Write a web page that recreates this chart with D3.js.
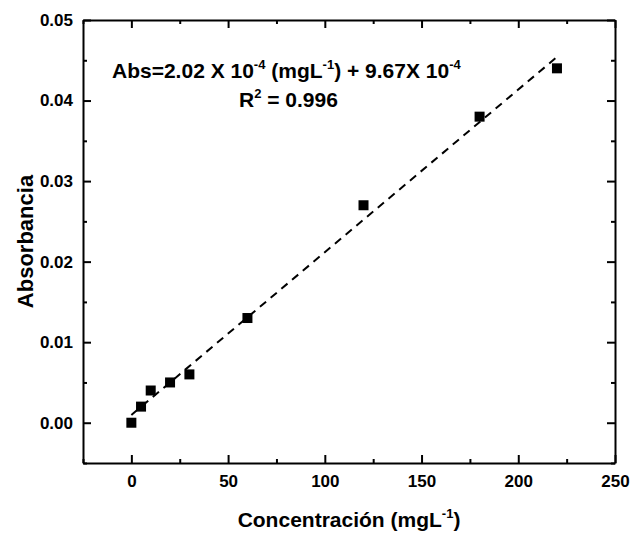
<!DOCTYPE html>
<html lang="es">
<head>
<meta charset="UTF-8">
<title>Curva de calibración</title>
<script src="https://cdn.jsdelivr.net/npm/d3@7"></script>
<style>
  * { margin: 0; padding: 0; }
  body { background: #fff; }
  svg text { font-family: "Liberation Sans", Arial, sans-serif; font-weight: bold; fill: #000; }
</style>
</head>
<body>
<svg></svg>
<script>
// datos
const concentracion = [0, 5, 10, 20, 30, 60, 120, 180, 220];
const absorbancia = [0, 0.002, 0.004, 0.005, 0.006, 0.013, 0.027, 0.038, 0.044];
const xTicks = [0, 50, 100, 150, 200, 250];
const yTicks = [0, 0.01, 0.02, 0.03, 0.04, 0.05];
const pendiente = 2.02e-4, intercepto = 9.67e-4;
const ajusteX = [0, 220];

const W = 631, H = 533;
const m = { left: 83, right: 16, top: 20, bottom: 70 };

const svg = d3.select('svg').attr('width', W).attr('height', H);

const x = d3.scaleLinear().domain([-25, 250]).range([m.left, W - m.right]);
const y = d3.scaleLinear().domain([-0.005, 0.05]).range([H - m.bottom, m.top]);

const xMinor = d3.range(-25, 251, 25).filter(v => xTicks.indexOf(v) < 0);
const yMinor = d3.range(-0.005, 0.0501, 0.01);

// ejes con marcas hacia adentro
function eje(g, axis) {
  g.call(axis);
  g.select('.domain').attr('stroke-width', 2);
  g.selectAll('.tick line').attr('stroke-width', 2);
  g.selectAll('.tick text').attr('font-size', 17).attr('font-family', null);
}

const gBottom = svg.append('g').attr('transform', `translate(0,${y.range()[0]})`);
eje(gBottom, d3.axisBottom(x).tickValues(xTicks).tickSize(-8).tickSizeOuter(0).tickPadding(12));
gBottom.selectAll('.tick text').attr('dy', '0.71em');
const gBottomMinor = svg.append('g').attr('transform', `translate(0,${y.range()[0]})`);
eje(gBottomMinor, d3.axisBottom(x).tickValues(xMinor).tickSize(-4).tickFormat(''));
gBottomMinor.select('.domain').remove();

const gTop = svg.append('g').attr('transform', `translate(0,${m.top})`);
eje(gTop, d3.axisTop(x).tickValues(xTicks).tickSize(-8).tickSizeOuter(0).tickFormat(''));
const gTopMinor = svg.append('g').attr('transform', `translate(0,${m.top})`);
eje(gTopMinor, d3.axisTop(x).tickValues(xMinor).tickSize(-4).tickFormat(''));
gTopMinor.select('.domain').remove();

const gLeft = svg.append('g').attr('transform', `translate(${m.left},0)`);
eje(gLeft, d3.axisLeft(y).tickValues(yTicks).tickSize(-8).tickSizeOuter(0).tickPadding(10).tickFormat(d3.format('.2f')));
const gLeftMinor = svg.append('g').attr('transform', `translate(${m.left},0)`);
eje(gLeftMinor, d3.axisLeft(y).tickValues(yMinor).tickSize(-4).tickFormat(''));
gLeftMinor.select('.domain').remove();

const gRight = svg.append('g').attr('transform', `translate(${W - m.right},0)`);
eje(gRight, d3.axisRight(y).tickValues(yTicks).tickSize(-8).tickSizeOuter(0).tickFormat(''));
const gRightMinor = svg.append('g').attr('transform', `translate(${W - m.right},0)`);
eje(gRightMinor, d3.axisRight(y).tickValues(yMinor).tickSize(-4).tickFormat(''));
gRightMinor.select('.domain').remove();

// recta de ajuste
svg.append('path')
  .datum(ajusteX.map(c => [c, pendiente * c + intercepto]))
  .attr('fill', 'none').attr('stroke', '#000').attr('stroke-width', 2)
  .attr('stroke-dasharray', '8,6')
  .attr('d', d3.line().x(d => x(d[0])).y(d => y(d[1])));

// puntos
const s = 10;
svg.selectAll('rect.pt').data(concentracion).enter().append('rect')
  .attr('class', 'pt')
  .attr('x', d => x(d) - s / 2)
  .attr('y', (d, i) => y(absorbancia[i]) - s / 2)
  .attr('width', s).attr('height', s).attr('fill', '#000');

// ecuación
const eq = svg.append('text').attr('x', 112).attr('y', 78).attr('font-size', 21);
eq.append('tspan').text('Abs=2.02 X 10');
eq.append('tspan').attr('font-size', 13).attr('dy', -9).text('-4');
eq.append('tspan').attr('dy', 9).text(' (mgL');
eq.append('tspan').attr('font-size', 13).attr('dy', -9).text('-1');
eq.append('tspan').attr('dy', 9).text(') + 9.67X 10');
eq.append('tspan').attr('font-size', 13).attr('dy', -9).text('-4');

const r2 = svg.append('text').attr('x', 239).attr('y', 107).attr('font-size', 21);
r2.append('tspan').text('R');
r2.append('tspan').attr('font-size', 13).attr('dy', -9).text('2');
r2.append('tspan').attr('dy', 9).text(' = 0.996');

// títulos de ejes
const xt = svg.append('text').attr('x', (m.left + W - m.right) / 2).attr('y', 527)
  .attr('text-anchor', 'middle').attr('font-size', 21);
xt.append('tspan').text('Concentración (mgL');
xt.append('tspan').attr('font-size', 13).attr('dy', -9).text('-1');
xt.append('tspan').attr('dy', 9).text(')');

svg.append('text')
  .attr('transform', `translate(33,${(m.top + H - m.bottom) / 2}) rotate(-90)`)
  .attr('text-anchor', 'middle').attr('font-size', 22)
  .text('Absorbancia');
</script>
</body>
</html>
